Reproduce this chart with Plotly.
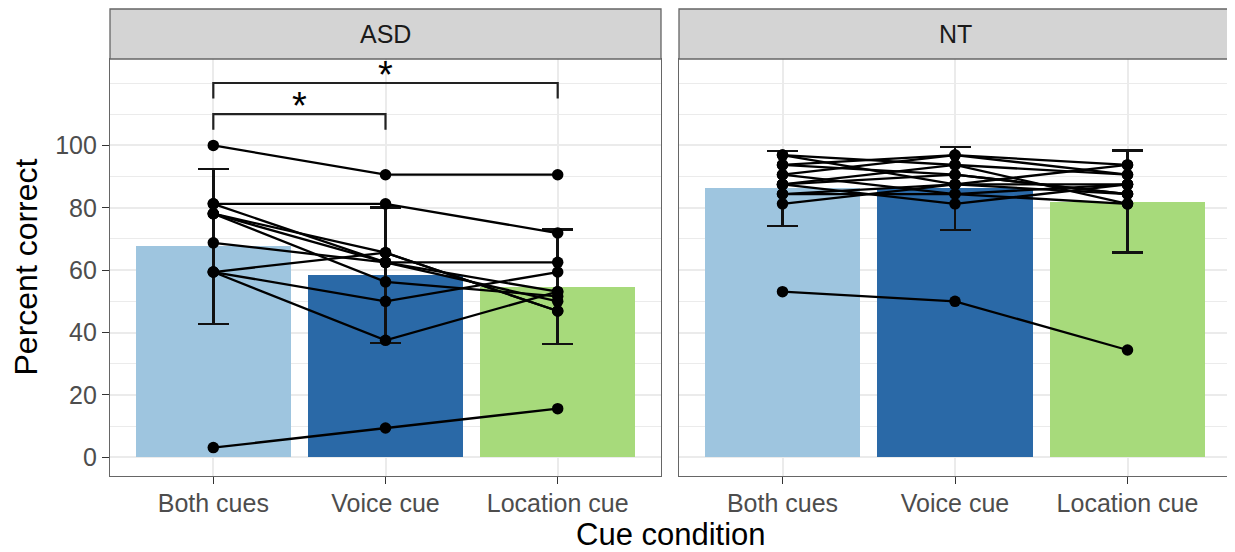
import plotly.graph_objects as go

categories = ["Both cues", "Voice cue", "Location cue"]
groups = ["ASD", "NT"]

# Individual participants (percent correct) - ASD
asd_both = [100.0, 81.25, 81.25, 78.1, 78.1, 78.1, 68.75, 59.4, 59.4, 59.4, 3.1]
asd_voice = [90.6, 81.25, 62.5, 65.6, 62.5, 56.25, 62.5, 65.6, 50.0, 37.5, 9.4]
asd_location = [90.6, 71.9, 50.0, 46.9, 53.1, 51.6, 62.5, 46.9, 59.4, 53.1, 15.6]

# Individual participants - NT
nt_both = [96.9, 96.9, 93.75, 93.75, 90.6, 90.6, 87.5, 87.5, 87.5, 84.4, 84.4, 81.25, 53.1]
nt_voice = [93.75, 87.5, 96.9, 90.6, 84.4, 96.9, 90.6, 81.25, 93.75, 87.5, 84.4, 87.5, 50.0]
nt_location = [90.6, 87.5, 93.75, 84.4, 87.5, 90.6, 84.4, 87.5, 81.25, 93.75, 81.25, 84.4, 34.4]

# Group means and SDs (bars and error bars)
asd_mean = [67.6, 58.4, 54.7]
asd_sd = [24.8, 21.7, 18.3]
nt_mean = [86.2, 86.2, 82.0]
nt_sd = [12.1, 13.3, 16.4]

# Significance brackets (ASD panel)
sig_pairs = [("Both cues", "Voice cue"), ("Both cues", "Location cue")]
sig_levels = [110, 120]
sig_labels = ["*", "*"]

bar_colors = ["#9EC5DF", "#2A69A7", "#A7DA7B"]
FONT = "Liberation Sans, Arial, Helvetica, sans-serif"

fig = go.Figure()

panels = [
    ("x", "y", asd_mean, asd_sd, [asd_both, asd_voice, asd_location]),
    ("x2", "y2", nt_mean, nt_sd, [nt_both, nt_voice, nt_location]),
]

for xa, ya, means, sds, conds in panels:
    fig.add_trace(go.Bar(
        x=categories, y=means, width=0.9,
        marker=dict(color=bar_colors, line=dict(width=0)),
        error_y=dict(type="data", array=sds, visible=True, color="#111111",
                     thickness=2.4, width=15.5),
        xaxis=xa, yaxis=ya, showlegend=False, hoverinfo="skip",
    ))
    n = len(conds[0])
    for i in range(n):
        fig.add_trace(go.Scatter(
            x=categories, y=[conds[0][i], conds[1][i], conds[2][i]],
            mode="lines+markers",
            line=dict(color="black", width=2.3),
            marker=dict(color="black", size=11.5),
            xaxis=xa, yaxis=ya, showlegend=False, hoverinfo="skip",
        ))

# significance brackets
for (a, b), lvl in zip(sig_pairs, sig_levels):
    fig.add_trace(go.Scatter(
        x=[a, a, b, b], y=[lvl - 5, lvl, lvl, lvl - 5], mode="lines",
        line=dict(color="#222222", width=2.2),
        xaxis="x", yaxis="y", showlegend=False, hoverinfo="skip",
    ))

annotations = []
for (a, b), lvl, lab in zip(sig_pairs, sig_levels, sig_labels):
    xm = (categories.index(a) + categories.index(b)) / 2
    annotations.append(dict(x=xm, y=lvl, xref="x", yref="y", text=lab,
                            showarrow=False, yanchor="bottom", yshift=-15,
                            font=dict(family=FONT, size=38, color="black")))

# The page adds an 8 px body margin; lay out in window coordinates minus 8.
OFF = 8
W, H = 1235 - OFF, 552 - OFF
ml, mt = 110 - OFF, 59 - OFF
pw, ph = 1121, 417
mr = W - ml - pw
mb = H - mt - ph
px0, py1 = 110, 59 + ph  # window coords of panel left and bottom
d1 = [0, 551 / pw]
d2 = [569 / pw, 1]

tickfont = dict(family=FONT, size=25, color="#4D4D4D")
common_x = dict(type="category", categoryorder="array", categoryarray=categories,
                range=[-0.6, 2.6], ticks="outside", ticklen=7, tickwidth=1.4,
                tickcolor="#333333", tickfont=tickfont, ticklabelstandoff=-2,
                showgrid=True, gridcolor="#EBEBEB", gridwidth=1.6,
                showline=True, mirror=True, linecolor="#666666", linewidth=1.3,
                zeroline=False, fixedrange=True)
minor = dict(tickvals=[10, 30, 50, 70, 90, 110, 120], showgrid=True,
             gridcolor="#EBEBEB", gridwidth=1.4, ticks="")
common_y = dict(range=[-6.0, 127.7], tickvals=[0, 20, 40, 60, 80, 100],
                showgrid=True, gridcolor="#EBEBEB", gridwidth=1.6, minor=minor,
                showline=True, mirror=True, linecolor="#666666", linewidth=1.3,
                zeroline=False, fixedrange=True)

fig.update_layout(
    width=W, height=H,
    margin=dict(l=ml, r=mr, t=mt, b=mb, pad=0),
    paper_bgcolor="white", plot_bgcolor="white",
    bargap=0, showlegend=False,
    font=dict(family=FONT),
    xaxis=dict(domain=d1, anchor="y", **common_x),
    xaxis2=dict(domain=d2, anchor="y2", **common_x),
    yaxis=dict(domain=[0, 1], anchor="x", ticks="outside", ticklen=7, tickwidth=1.4,
               tickcolor="#333333", tickfont=tickfont, **common_y),
    yaxis2=dict(domain=[0, 1], anchor="x2", showticklabels=False, ticks="",
                matches="y", **common_y),
)

# strips
strip_h = 50 / ph
shapes = []
for xd, yd, g in [("x domain", "y domain", groups[0]), ("x2 domain", "y2 domain", groups[1])]:
    shapes.append(dict(type="rect", xref=xd, yref=yd, x0=0, x1=1, y0=1, y1=1 + strip_h,
                       fillcolor="#D4D4D4", line=dict(color="#666666", width=1.3), layer="above"))
    annotations.append(dict(x=0.5, y=1 + strip_h / 2, xref=xd, yref=yd, text=g,
                            showarrow=False, yanchor="middle",
                            font=dict(family=FONT, size=25, color="#1A1A1A")))

annotations.append(dict(x=(670.5 - px0) / pw, y=-(534 - py1) / ph, xref="paper", yref="paper",
                        text="Cue condition", showarrow=False, xanchor="center", yanchor="middle",
                        font=dict(family=FONT, size=31, color="black")))
annotations.append(dict(x=(25 - px0) / pw, y=0.5, xref="paper", yref="paper",
                        text="Percent correct", showarrow=False, textangle=-90,
                        xanchor="center", yanchor="middle",
                        font=dict(family=FONT, size=32, color="black")))

fig.update_layout(shapes=shapes, annotations=annotations)
fig.write_html("out.html")
